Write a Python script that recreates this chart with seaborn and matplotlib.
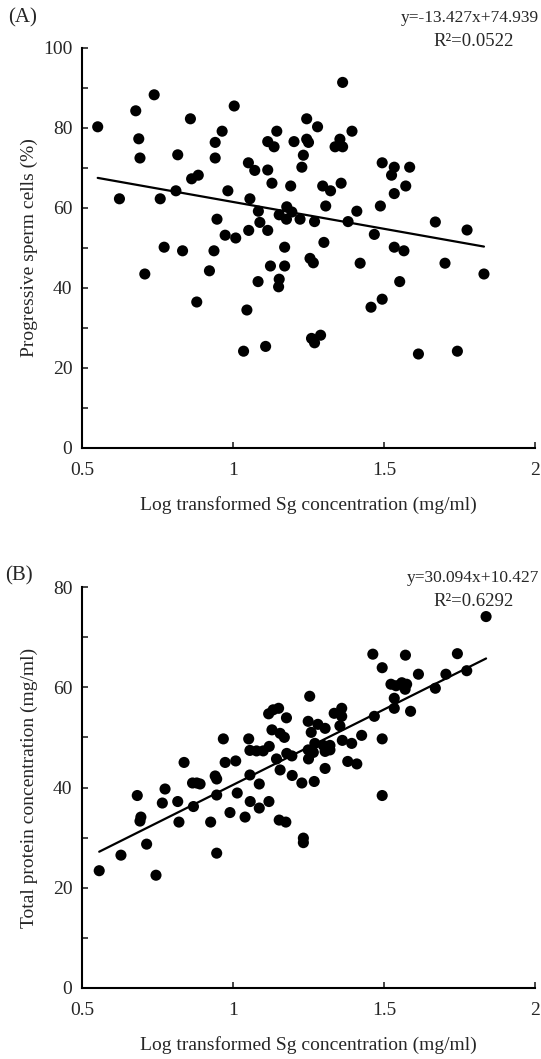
import numpy as np
import pandas as pd
import matplotlib
matplotlib.use("Agg")
import matplotlib.pyplot as plt
import seaborn as sns
from matplotlib.ticker import MultipleLocator

# (A) log Sg concentration vs progressive sperm cells (%)
sg_a = [0.552, 0.678, 0.739, 0.688, 0.692, 0.624, 0.759, 0.817, 0.811, 0.859,
        0.863, 0.885, 0.941, 0.964, 0.941, 1.004, 0.983, 1.051, 1.072, 1.115,
        1.136, 1.145, 1.115, 1.129, 1.056, 1.084, 1.089, 1.115, 1.052, 0.947,
        0.974, 1.009, 1.191, 1.202, 1.244, 1.244, 1.250, 1.233, 1.228, 1.280,
        1.178, 1.153, 1.195, 1.177, 1.222, 1.270, 0.772, 0.833, 0.937, 1.171,
        1.363, 1.394, 1.354, 1.338, 1.363, 1.494, 1.534, 1.585, 1.525, 1.572,
        1.534, 1.297, 1.323, 1.358, 1.307, 1.410, 1.488, 1.381, 1.670, 1.775,
        1.468, 1.301, 1.534, 1.566, 1.255, 1.266, 0.708, 0.922, 1.124, 1.171,
        1.083, 1.153, 1.151, 0.880, 1.046, 1.260, 1.270, 1.290, 1.035, 1.108,
        1.421, 1.702, 1.831, 1.552, 1.494, 1.457, 1.614, 1.743]
motility_a = [80.3, 84.3, 88.3, 77.3, 72.5, 62.3, 62.3, 73.3, 64.3, 82.3,
              67.3, 68.2, 76.4, 79.2, 72.5, 85.5, 64.3, 71.3, 69.4, 76.6,
              75.3, 79.2, 69.5, 66.2, 62.3, 59.2, 56.4, 54.4, 54.4, 57.2,
              53.2, 52.5, 65.5, 76.6, 82.3, 77.2, 76.4, 73.2, 70.2, 80.3,
              60.3, 58.3, 59.0, 57.2, 57.2, 56.6, 50.2, 49.3, 49.3, 50.2,
              91.4, 79.2, 77.2, 75.3, 75.3, 71.3, 70.2, 70.2, 68.2, 65.5,
              63.6, 65.5, 64.3, 66.2, 60.5, 59.2, 60.5, 56.6, 56.5, 54.5,
              53.4, 51.4, 50.2, 49.3, 47.4, 46.3, 43.5, 44.3, 45.5, 45.5,
              41.6, 42.2, 40.3, 36.5, 34.5, 27.4, 26.3, 28.2, 24.2, 25.4,
              46.2, 46.2, 43.5, 41.6, 37.2, 35.2, 23.5, 24.2]

# (B) log Sg concentration vs total protein concentration (mg/ml)
sg_b = [1.254, 1.118, 1.133, 1.151, 1.177, 1.249, 1.281, 1.259, 1.129, 1.156,
        1.170, 0.968, 1.052, 1.056, 1.078, 1.100, 1.120, 0.838, 0.974, 1.009,
        1.144, 1.178, 1.195, 1.250, 1.266, 1.056, 1.156, 1.196, 1.228, 1.269,
        0.866, 0.880, 0.891, 0.941, 0.946, 1.087, 0.775, 0.683, 0.946, 1.014,
        0.766, 0.817, 0.869, 1.057, 1.119, 1.087, 0.990, 1.040, 0.695, 0.692,
        0.821, 0.926, 1.153, 1.175, 1.233, 1.233, 0.714, 0.629, 0.946, 0.557,
        0.745, 1.838, 1.463, 1.571, 1.743, 1.494, 1.614, 1.705, 1.774, 1.523,
        1.540, 1.559, 1.575, 1.570, 1.670, 1.534, 1.534, 1.588, 1.468, 1.335,
        1.360, 1.360, 1.305, 1.354, 1.426, 1.494, 1.362, 1.393, 1.271, 1.299,
        1.321, 1.249, 1.305, 1.321, 1.380, 1.410, 1.305, 1.494]
protein_b = [58.2, 54.7, 55.5, 55.8, 53.9, 53.2, 52.6, 51.0, 51.5, 50.8,
             50.0, 49.7, 49.7, 47.4, 47.3, 47.3, 48.2, 45.0, 45.0, 45.3,
             45.7, 46.8, 46.3, 45.7, 47.0, 42.5, 43.5, 42.4, 40.9, 41.2,
             40.9, 40.9, 40.7, 42.3, 41.7, 40.7, 39.7, 38.4, 38.5, 38.9,
             36.9, 37.2, 36.2, 37.2, 37.2, 35.9, 35.0, 34.1, 34.1, 33.3,
             33.1, 33.1, 33.5, 33.1, 29.9, 29.0, 28.7, 26.5, 26.9, 23.4,
             22.5, 74.1, 66.6, 66.4, 66.7, 63.9, 62.6, 62.6, 63.3, 60.6,
             60.3, 60.9, 60.6, 59.6, 59.8, 57.8, 55.8, 55.2, 54.2, 54.8,
             55.8, 54.2, 51.8, 52.3, 50.4, 49.7, 49.4, 48.8, 48.8, 48.4,
             48.4, 47.5, 47.2, 47.5, 45.2, 44.7, 43.8, 38.4]

slope_a, intercept_a, r2_a = -13.427, 74.939, "0.0522"
slope_b, intercept_b, r2_b = 30.094, 10.427, "0.6292"

sns.set_style("ticks")
plt.rcParams["font.family"] = ["Liberation Serif", "DejaVu Serif"]
plt.rcParams["font.size"] = 14

W, H = 541, 1059
fig = plt.figure(figsize=(W / 100, H / 100), dpi=100)
ax_a = fig.add_axes([82 / W, 1 - 448 / H, 453 / W, 400 / H])
ax_b = fig.add_axes([82 / W, 1 - 988 / H, 453 / W, 401 / H])


def panel(ax, x, y, slope, intercept, ymax, ylabel):
    df = pd.DataFrame({"x": x, "y": y})
    sns.scatterplot(data=df, x="x", y="y", ax=ax, color="black", s=64,
                    edgecolor="none", zorder=3)
    xs = np.array([min(x), max(x)])
    sns.lineplot(x=xs, y=slope * xs + intercept, ax=ax, color="black",
                 linewidth=1.6, zorder=2)
    ax.set_xlim(0.5, 2)
    ax.set_ylim(0, ymax)
    ax.xaxis.set_major_locator(MultipleLocator(0.5))
    ax.yaxis.set_major_locator(MultipleLocator(20))
    ax.yaxis.set_minor_locator(MultipleLocator(10))
    ax.xaxis.set_major_formatter(plt.FuncFormatter(lambda v, p: f"{v:g}"))
    ax.tick_params(axis="both", which="both", direction="in", length=4,
                   width=1.2, labelsize=14)
    ax.tick_params(axis="x", pad=10)
    ax.tick_params(axis="y", pad=7)
    for side in ["top", "right"]:
        ax.spines[side].set_visible(False)
    for side in ["left", "bottom"]:
        ax.spines[side].set_linewidth(1.5)
        ax.spines[side].set_color("black")
    ax.set_xlabel("Log transformed Sg concentration (mg/ml)", fontsize=14)
    ax.set_ylabel(ylabel, fontsize=14)
    ax.xaxis.set_label_coords(0.5, -0.12)
    ax.yaxis.set_label_coords(-0.097, 0.5)


panel(ax_a, sg_a, motility_a, slope_a, intercept_a, 100,
      "Progressive sperm cells (%)")
panel(ax_b, sg_b, protein_b, slope_b, intercept_b, 80,
      "Total protein concentration (mg/ml)")

fig.text(8 / W, 1 - 18 / H, "(A)", ha="left", va="center", fontsize=15)
fig.text(539 / W, 1 - 18 / H, f"y={slope_a}x+{intercept_a}", ha="right",
         va="center", fontsize=12.5)
fig.text(474 / W, 1 - 41 / H, f"R²={r2_a}", ha="center", va="center",
         fontsize=13.5)

fig.text(5 / W, 1 - 576 / H, "(B)", ha="left", va="center", fontsize=15)
fig.text(539 / W, 1 - 578 / H, f"y={slope_b}x+{intercept_b}", ha="right",
         va="center", fontsize=12.5)
fig.text(474 / W, 1 - 601 / H, f"R²={r2_b}", ha="center", va="center",
         fontsize=13.5)

fig.savefig("out.png", dpi=100, facecolor="white")
